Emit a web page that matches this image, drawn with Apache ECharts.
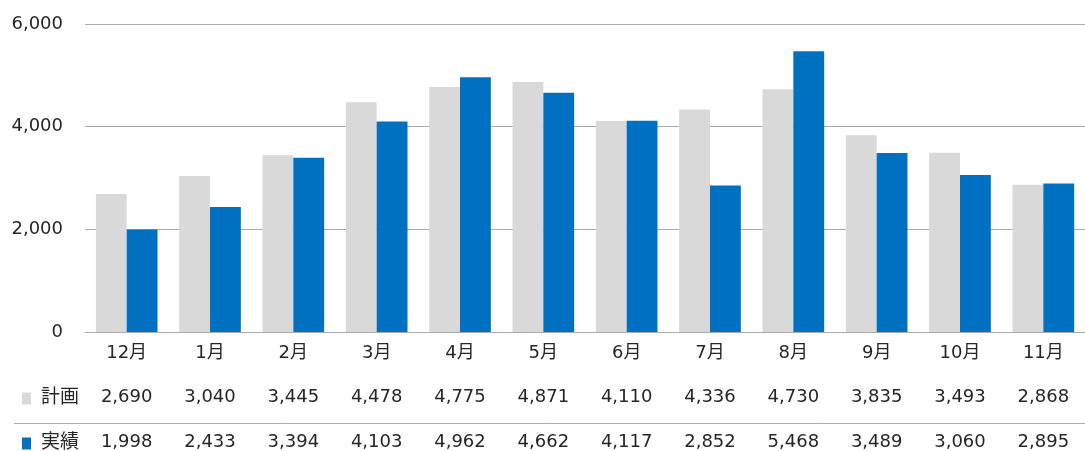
<!DOCTYPE html>
<html>
<head>
<meta charset="utf-8">
<style>
  html, body { margin: 0; padding: 0; background: #fff; }
  #chart { width: 1085px; height: 451px; }
</style>
<script src="https://cdn.jsdelivr.net/npm/echarts@6/dist/echarts.min.js"></script>
</head>
<body>
<div id="chart"></div>
<script>
// Monthly plan vs. actual
const months = ['12月', '1月', '2月', '3月', '4月', '5月', '6月', '7月', '8月', '9月', '10月', '11月'];
const planValues = [2690, 3040, 3445, 4478, 4775, 4871, 4110, 4336, 4730, 3835, 3493, 2868];
const actualValues = [1998, 2433, 3394, 4103, 4962, 4662, 4117, 2852, 5468, 3489, 3060, 2895];
const yTicks = [0, 2000, 4000, 6000];

const FONT = "'DejaVu Sans', 'Noto Sans CJK JP', sans-serif";
const TEXT = '#262626';
const GREY = '#D9D9D9';
const BLUE = '#0070C0';
const SIZE = 18;
const fmt = v => v.toLocaleString('en-US');

// Extra category axes used as the data-table rows under the chart
function tableAxis(values, offset) {
  return {
    type: 'category',
    data: values.map(fmt),
    position: 'bottom',
    offset: offset,
    axisLine: { show: false },
    axisTick: { show: false },
    axisLabel: { color: TEXT, fontSize: SIZE, fontFamily: FONT, margin: 11, interval: 0 }
  };
}

function legendRow(name, top) {
  return {
    data: [name], left: 22, top: top, padding: 0, orient: 'vertical',
    icon: 'rect', itemWidth: 9, itemHeight: 12,
    textStyle: { color: TEXT, fontSize: 19, fontFamily: FONT, padding: [0, 0, 0, 5] },
    selectedMode: false
  };
}

const chart = echarts.init(document.getElementById('chart'), null, { renderer: 'canvas' });
chart.setOption({
  animation: false,
  textStyle: { fontFamily: FONT },
  grid: { left: 85, right: -8, top: 24, bottom: 115, containLabel: false },
  legend: [legendRow('計画', 389), legendRow('実績', 434)],
  xAxis: [
    {
      type: 'category',
      data: months,
      axisLine: { show: true, lineStyle: { color: '#ABABAB', width: 1 } },
      axisTick: { show: false },
      axisLabel: { color: TEXT, fontSize: SIZE, fontFamily: FONT, margin: 12, interval: 0 }
    },
    tableAxis(planValues, 45),
    tableAxis(actualValues, 90)
  ],
  yAxis: {
    type: 'value',
    min: yTicks[0],
    max: yTicks[yTicks.length - 1],
    interval: yTicks[1] - yTicks[0],
    axisLine: { show: false },
    axisTick: { show: false },
    axisLabel: { color: TEXT, fontSize: SIZE, fontFamily: FONT, margin: 22, formatter: v => fmt(v) },
    splitLine: { lineStyle: { color: '#ABABAB', width: 1 } }
  },
  series: [
    {
      name: '計画', type: 'bar', data: planValues,
      itemStyle: { color: GREY },
      barGap: '0%', barCategoryGap: '26%'
    },
    {
      name: '実績', type: 'bar', data: actualValues,
      itemStyle: { color: BLUE },
      barGap: '0%', barCategoryGap: '26%'
    }
  ],
  graphic: [
    {
      type: 'line',
      shape: { x1: 14, y1: 423.5, x2: 1085, y2: 423.5 },
      style: { stroke: '#ABABAB', lineWidth: 1 }
    }
  ]
});
</script>
</body>
</html>
